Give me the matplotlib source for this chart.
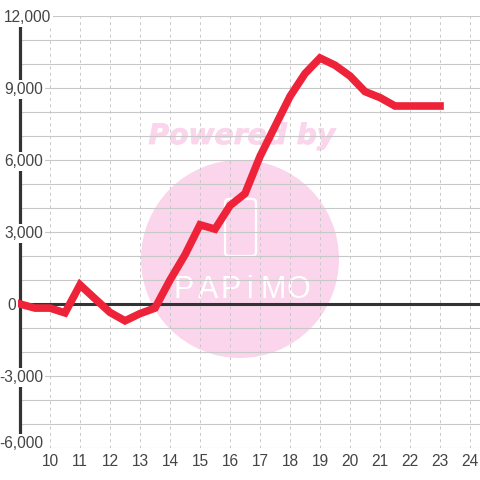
import matplotlib
matplotlib.use('Agg')
import matplotlib.pyplot as plt
import matplotlib.patheffects as pe
from matplotlib.patches import Circle, FancyBboxPatch
from matplotlib.transforms import IdentityTransform

plt.rcParams['font.family'] = ['Liberation Sans', 'DejaVu Sans']

hours = [9, 9.5, 10, 10.5, 11, 11.5, 12, 12.5, 13, 13.5, 14, 14.5, 15, 15.5, 16, 16.5,
         17, 17.5, 18, 18.5, 19, 19.5, 20, 20.5, 21, 21.5, 22, 22.5, 23]
values = [0, -170, -170, -370, 800, 220, -350, -700, -400, -170, 1000, 2050, 3300, 3120,
          4100, 4600, 6150, 7400, 8650, 9600, 10250, 9950, 9500, 8850, 8600, 8250, 8250, 8250, 8250]
x_ticks = list(range(10, 25))
y_ticks = list(range(-6000, 13000, 1000))
y_labels = [12000, 9000, 6000, 3000, 0, -3000, -6000]

PINK = '#fbd5ec'
GRID = '#c8c8c8'
DARK = '#333333'
TEXT = '#444444'

fig = plt.figure(figsize=(4.8, 4.8), dpi=100)
ax = fig.add_axes([20 / 480, 32 / 480, 460 / 480, 432 / 480])
ax.set_xlim(9, 24.3333)
ax.set_ylim(-6000, 12000)
ax.set_facecolor('none')

# watermark sits under the grid, in pixel coordinates
pix = IdentityTransform()
fig.add_artist(Circle((240, 221), 99, transform=pix, color=PINK, lw=0, zorder=-5))
fig.add_artist(FancyBboxPatch((225, 224), 31, 57, boxstyle='round,pad=0,rounding_size=4', transform=pix,
                              fc='none', ec='white', lw=1.6, zorder=-4))
fig.text(242, 344, 'Powered by', transform=pix, ha='center', va='center', fontsize=20.3, color=PINK,
         fontweight='bold', fontstyle='italic', family='DejaVu Sans', zorder=-4,
         path_effects=[pe.withStroke(linewidth=0.6, foreground=PINK)])
for letter, px in zip('PAPiMO', [184, 208, 231, 250, 273, 298]):
    fig.text(px, 190, letter, transform=pix, ha='center', va='center', fontsize=22, color='white',
             family='Liberation Sans', zorder=-4)

ax.set_xticks(x_ticks)
ax.set_yticks(y_ticks)
ax.set_yticklabels([])
ax.set_axisbelow(True)
ax.grid(axis='y', color=GRID, lw=0.8)
ax.grid(axis='x', color=GRID, lw=0.7, ls=(0, (3, 3.5)))
ax.tick_params(length=0)
ax.tick_params(axis='x', labelsize=11.2, labelcolor=TEXT, pad=4)

for name in ['top', 'right', 'bottom']:
    ax.spines[name].set_visible(False)
ax.spines['left'].set_color(DARK)
ax.spines['left'].set_linewidth(2.3)
ax.spines['left'].set_bounds(-5500, 11670)
ax.spines['left'].set_zorder(2)

ax.axhline(0, color=DARK, lw=2.2, zorder=2.5)
ax.plot(hours, values, color='#ee2238', lw=5.5, solid_joinstyle='miter', zorder=3, clip_on=False)

label_trans = ax.get_yaxis_transform()
right_edges = {12000: 51, 0: 16}
for v in y_labels:
    right = right_edges.get(v, 43)
    # the bottom label is pushed up so it stays inside the chart
    dy = 3.2 if v == -6000 else -1.1
    ax.annotate(f'{v:,}', xy=((right - 20) / 460, v), xycoords=label_trans, xytext=(0, dy),
                textcoords='offset points', ha='right', va='center', fontsize=11.2, color=TEXT,
                annotation_clip=False, zorder=4, bbox=dict(fc='white', ec='none', pad=1.5))

fig.savefig('out.png', dpi=100)
